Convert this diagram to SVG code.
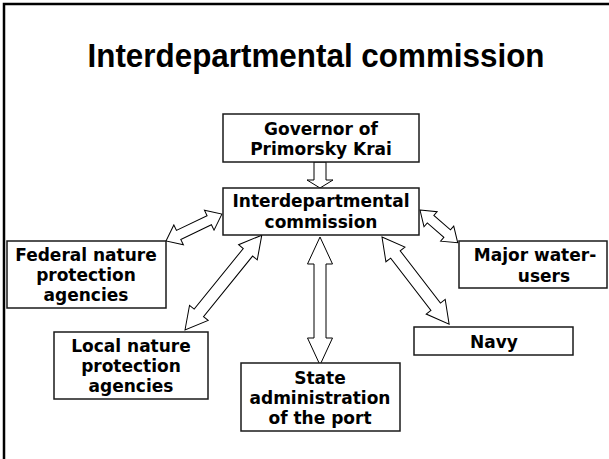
<svg xmlns="http://www.w3.org/2000/svg" width="609" height="459" viewBox="0 0 609 459">
<style>
.box{fill:#fff;stroke:#1a1a1a;stroke-width:1.5}
.t{font-family:"DejaVu Sans",Verdana,sans-serif;font-weight:bold;font-size:17px;fill:#000;text-anchor:middle}
.arr{fill:#fff;stroke:#000;stroke-width:1}
.title{font-family:"Liberation Sans",Arial,sans-serif;font-weight:bold;font-size:34px;fill:#000;text-anchor:middle}
</style>
<rect x="0" y="0" width="609" height="459" fill="#fff"/>
<path d="M4,459 V4 H609" fill="none" stroke="#000" stroke-width="2.5"/>
<text class="title" x="316" y="67" textLength="457" lengthAdjust="spacingAndGlyphs">Interdepartmental commission</text>
<g id="connectors">
<polygon class="arr" points="314,162 326,162 326,180 333,180 320,188 307,180 314,180"/>
<polygon class="arr" transform="translate(166,241) rotate(-25.7)" points="0,0 14,-11 14,-5 48,-5 48,-11 62,0 48,11 48,5 14,5 14,11"/>
<polygon class="arr" transform="translate(185,330) rotate(-51)" points="0,0 22,-12 22,-6 100,-6 100,-12 122,0 100,12 100,6 22,6 22,12"/>
<polygon class="arr" transform="translate(420,210) rotate(41)" points="0,0 14,-10 14,-5 36,-5 36,-10 50,0 36,10 36,5 14,5 14,10"/>
<polygon class="arr" transform="translate(382,237) rotate(52.4)" points="0,0 22,-12 22,-6 88,-6 88,-12 110,0 88,12 88,6 22,6 22,12"/>
<polygon class="arr" transform="translate(320,237) rotate(90)" points="0,0 27,-12.5 27,-6 101,-6 101,-12.5 128,0 101,12.5 101,6 27,6 27,12.5"/>
</g>
<g id="governor">
<rect class="box" x="223" y="114" width="196" height="48"/>
<text class="t" x="321" y="135">Governor of</text>
<text class="t" x="321" y="155">Primorsky Krai</text>
</g>
<g id="commission">
<rect class="box" x="223" y="188" width="196" height="47"/>
<text class="t" x="321" y="207">Interdepartmental</text>
<text class="t" x="321" y="228">commission</text>
</g>
<g id="federal">
<rect class="box" x="7" y="241" width="159" height="67"/>
<text class="t" x="86" y="261">Federal nature</text>
<text class="t" x="86" y="281">protection</text>
<text class="t" x="86" y="301">agencies</text>
</g>
<g id="local">
<rect class="box" x="54" y="332" width="154" height="67"/>
<text class="t" x="131" y="352">Local nature</text>
<text class="t" x="131" y="372">protection</text>
<text class="t" x="131" y="392">agencies</text>
</g>
<g id="state">
<rect class="box" x="241" y="363" width="159" height="68"/>
<text class="t" x="320" y="384">State</text>
<text class="t" x="320" y="404">administration</text>
<text class="t" x="320" y="424">of the port</text>
</g>
<g id="major">
<rect class="box" x="459" y="241" width="148" height="47"/>
<text class="t" x="535" y="261">Major water-</text>
<text class="t" x="544" y="282">users</text>
</g>
<g id="navy">
<rect class="box" x="414" y="327" width="159" height="28"/>
<text class="t" x="494" y="348">Navy</text>
</g>
</svg>
